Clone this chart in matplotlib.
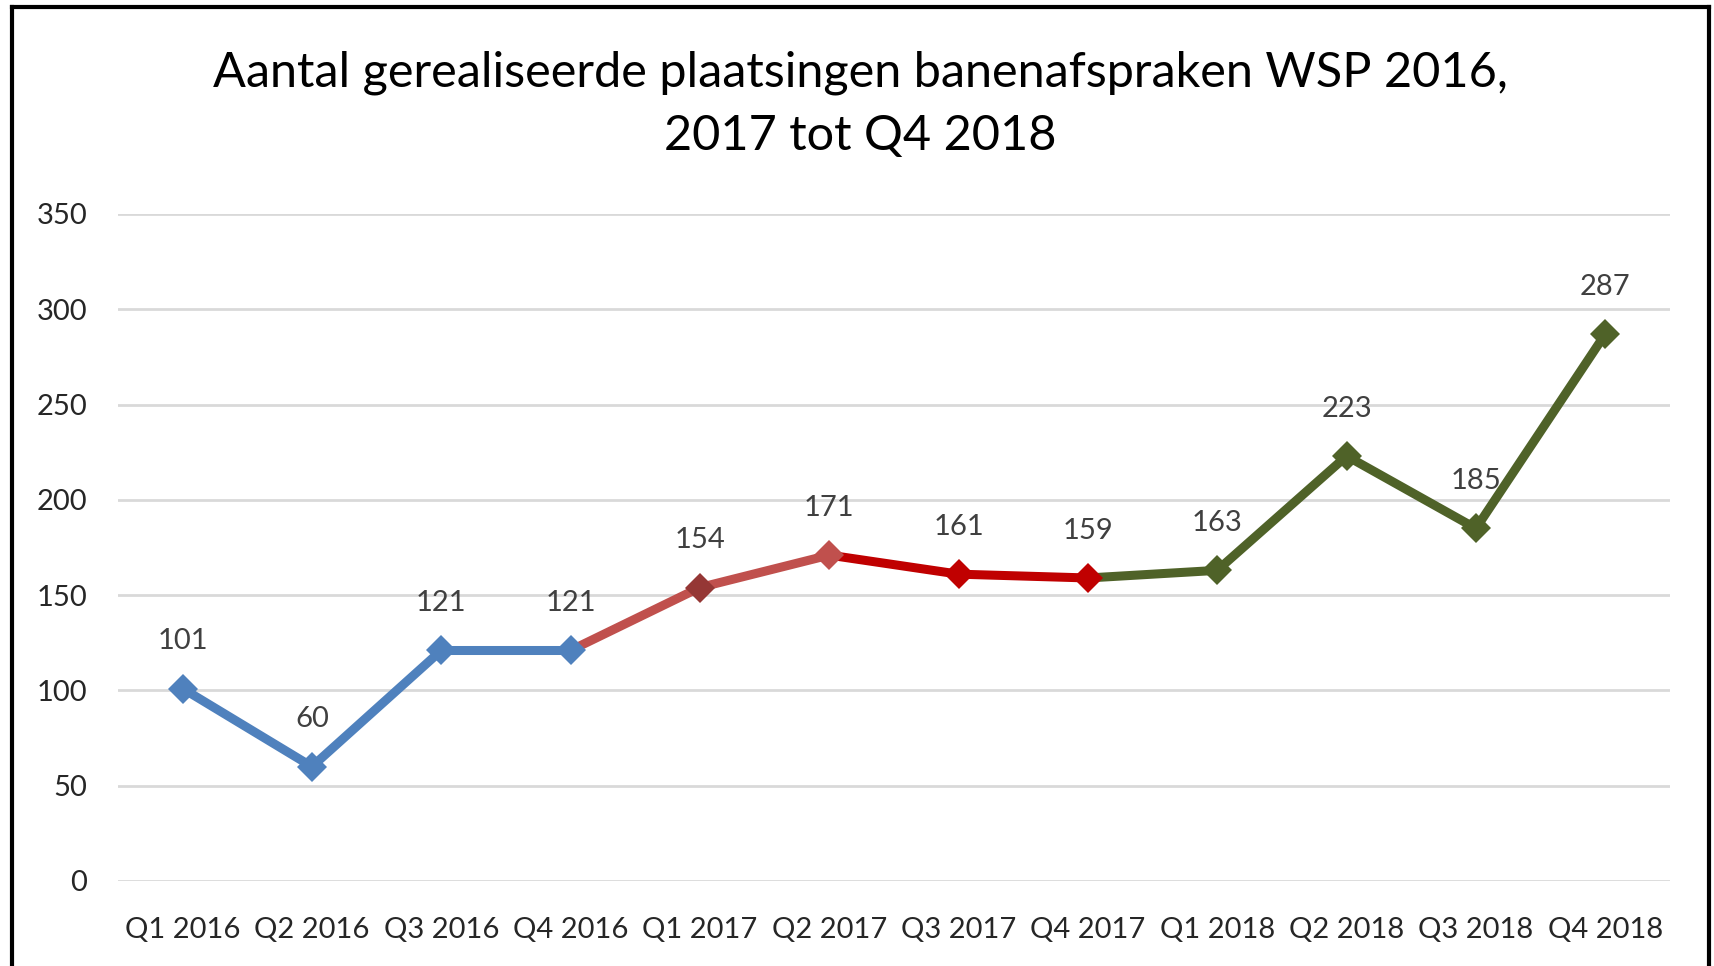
import matplotlib.pyplot as plt
from matplotlib.lines import Line2D

# Data
quarters = ["Q1 2016", "Q2 2016", "Q3 2016", "Q4 2016",
            "Q1 2017", "Q2 2017", "Q3 2017", "Q4 2017",
            "Q1 2018", "Q2 2018", "Q3 2018", "Q4 2018"]
plaatsingen = [101, 60, 121, 121, 154, 171, 161, 159, 163, 223, 185, 287]

# colour of each line segment (segment i goes from point i to i+1)
segment_colors = ["#4f81bd"] * 3 + ["#c0504d"] * 2 + ["#c00000"] * 2 + ["#4f6228"] * 4
marker_colors = ["#4f81bd"] * 4 + ["#953735", "#c0504d", "#c00000", "#c00000"] + ["#4f6228"] * 4

title = "Aantal gerealiseerde plaatsingen banenafspraken WSP 2016,\n2017 tot Q4 2018"

plt.rcParams['font.family'] = ['Lato', 'DejaVu Sans']

fig = plt.figure(figsize=(17.14, 9.66), dpi=100)
ax = fig.add_axes([0.0688, 0.088, 0.9055, 0.6905])

x = list(range(len(quarters)))

# Lines
for i in range(len(x) - 1):
    ax.plot(x[i:i + 2], plaatsingen[i:i + 2], color=segment_colors[i], linewidth=6.5,
            solid_capstyle='butt', zorder=3)

# Markers + data labels
for xi, yi, c in zip(x, plaatsingen, marker_colors):
    ax.plot(xi, yi, marker='D', markersize=15, color=c, markeredgewidth=0, zorder=4)
    ax.annotate(str(yi), (xi, yi), xytext=(0, 34), textcoords='offset points',
                ha='center', va='center', fontsize=21, color='#404040', zorder=5)

ax.set_xlim(-0.5, len(x) - 0.5)
ax.set_ylim(0, 350)
ax.set_yticks(range(0, 351, 50))
ax.set_xticks(x)
ax.set_xticklabels(quarters)
ax.tick_params(axis='both', length=0, labelsize=21, labelcolor='#262626')
ax.tick_params(axis='y', pad=22)
ax.tick_params(axis='x', pad=26)

ax.grid(True, axis='y', color='#d9d9d9', linewidth=2)
ax.set_axisbelow(True)
for s in ax.spines.values():
    s.set_visible(False)

fig.text(0.502, 0.892, title, ha='center', va='center', fontsize=35,
         color='#000000', linespacing=1.52)

# Outer frame (left, top, right)
fig.add_artist(Line2D([0.0070, 0.0070], [0, 0.9925], transform=fig.transFigure,
                      color='black', linewidth=3))
fig.add_artist(Line2D([0.0070, 0.9972], [0.9925, 0.9925], transform=fig.transFigure,
                      color='black', linewidth=3))
fig.add_artist(Line2D([0.9972, 0.9972], [0, 0.9925], transform=fig.transFigure,
                      color='black', linewidth=3))

fig.savefig("out.png", dpi=100, facecolor='white')
